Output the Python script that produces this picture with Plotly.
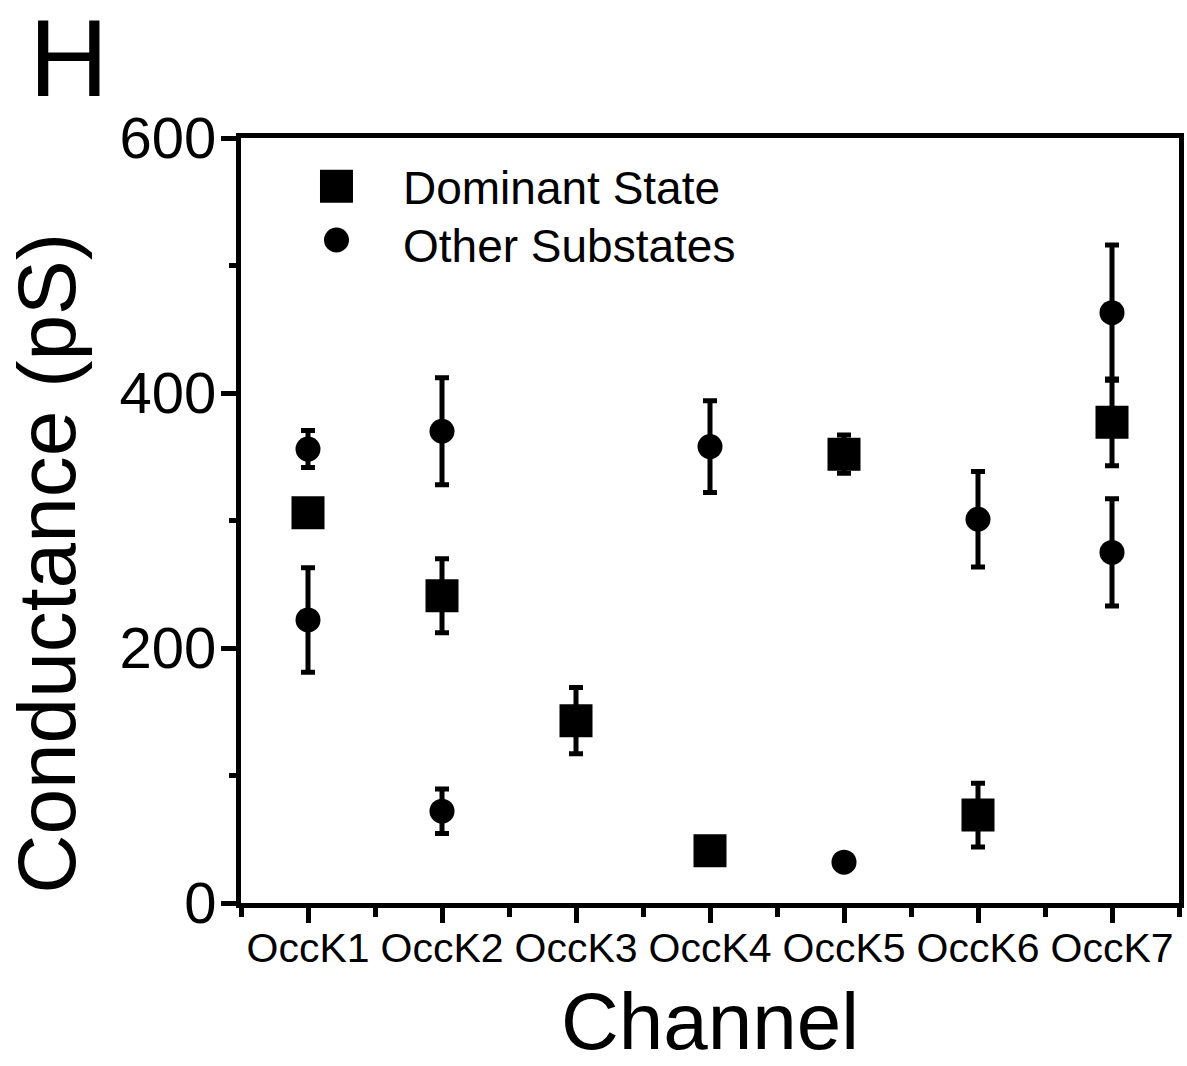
import plotly.graph_objects as go

channels = ["OccK1", "OccK2", "OccK3", "OccK4", "OccK5", "OccK6", "OccK7"]

dominant_values = [306, 241, 143, 41, 352, 69, 377]
dominant_errors = [0, 29, 26, 0, 15, 25, 34]

substate_channels = ["OccK1", "OccK1", "OccK2", "OccK2", "OccK4", "OccK5", "OccK6", "OccK7", "OccK7"]
substate_values = [356, 222, 370, 72, 358, 32, 301, 463, 275]
substate_errors = [14.5, 41, 42, 17.5, 36, 0, 37.5, 53, 42]

y_tick_values = [0, 200, 400, 600]
legend_labels = ["Dominant State", "Other Substates"]

FONT = "Liberation Sans, Arial, sans-serif"

x_dom = [channels.index(c) + 1 for c in channels]
x_sub = [channels.index(c) + 1 for c in substate_channels]

fig = go.Figure()
fig.add_trace(go.Scatter(
    x=x_dom, y=dominant_values, mode="markers", name=legend_labels[0],
    marker=dict(symbol="square", size=33, color="black", line=dict(width=0)),
    error_y=dict(type="data", array=dominant_errors, color="black", thickness=5, width=7),
    showlegend=False,
))
fig.add_trace(go.Scatter(
    x=x_sub, y=substate_values, mode="markers", name=legend_labels[1],
    marker=dict(symbol="circle", size=25, color="black", line=dict(width=0)),
    error_y=dict(type="data", array=substate_errors, color="black", thickness=5, width=7),
    showlegend=False,
))

axis_common = dict(
    showline=True, linecolor="black", linewidth=5, mirror=True,
    showgrid=False, zeroline=False, ticks="outside", tickcolor="black",
    tickwidth=5, ticklen=15,
)

fig.update_xaxes(
    **axis_common,
    range=[0.5, 7.5],
    tickmode="array", tickvals=x_dom, ticktext=channels,
    tickfont=dict(family=FONT, size=41, color="black"),
    ticklabelstandoff=-10,
    minor=dict(ticks="outside", tickvals=[i + 0.5 for i in range(0, len(channels) + 1)],
               ticklen=9, tickwidth=5, tickcolor="black"),
    title=dict(text="Channel", font=dict(family=FONT, size=80, color="black"), standoff=28),
)
fig.update_yaxes(
    **axis_common,
    range=[0, 600],
    tickmode="array", tickvals=y_tick_values,
    tickfont=dict(family=FONT, size=58, color="black"),
    ticklabelstandoff=-7,
    minor=dict(ticks="outside", dtick=100, ticklen=7, tickwidth=5, tickcolor="black"),
)

# legend drawn manually to match layout
shapes = [
    dict(type="rect", xref="paper", yref="paper", xsizemode="pixel", ysizemode="pixel",
         xanchor=0.1018, yanchor=0.937, x0=-16.5, x1=16.5, y0=-16.5, y1=16.5,
         fillcolor="black", line=dict(width=0)),
    dict(type="circle", xref="paper", yref="paper", xsizemode="pixel", ysizemode="pixel",
         xanchor=0.1018, yanchor=0.8667, x0=-12.5, x1=12.5, y0=-12.5, y1=12.5,
         fillcolor="black", line=dict(width=0)),
]
annotations = [
    dict(text=legend_labels[0], xref="paper", yref="paper", x=0.1707, y=0.934,
         xanchor="left", yanchor="middle", showarrow=False,
         font=dict(family=FONT, size=46, color="black")),
    dict(text=legend_labels[1], xref="paper", yref="paper", x=0.1707, y=0.859,
         xanchor="left", yanchor="middle", showarrow=False,
         font=dict(family=FONT, size=46, color="black")),
    dict(text="Conductance (pS)", xref="paper", yref="paper", x=-0.258, y=0.444,
         xanchor="left", yanchor="middle", textangle=-90, showarrow=False,
         font=dict(family=FONT, size=82, color="black")),
    dict(text="H", xref="paper", yref="paper", x=-0.228, y=1.105,
         xanchor="left", yanchor="middle", showarrow=False,
         font=dict(family=FONT, size=110, color="black")),
]

fig.update_layout(
    width=1187, height=1066,
    margin=dict(l=241, r=3, t=138, b=163),
    paper_bgcolor="white", plot_bgcolor="white",
    font=dict(family=FONT, color="black"),
    shapes=shapes, annotations=annotations,
    showlegend=False,
)

fig.write_html("out.html")
